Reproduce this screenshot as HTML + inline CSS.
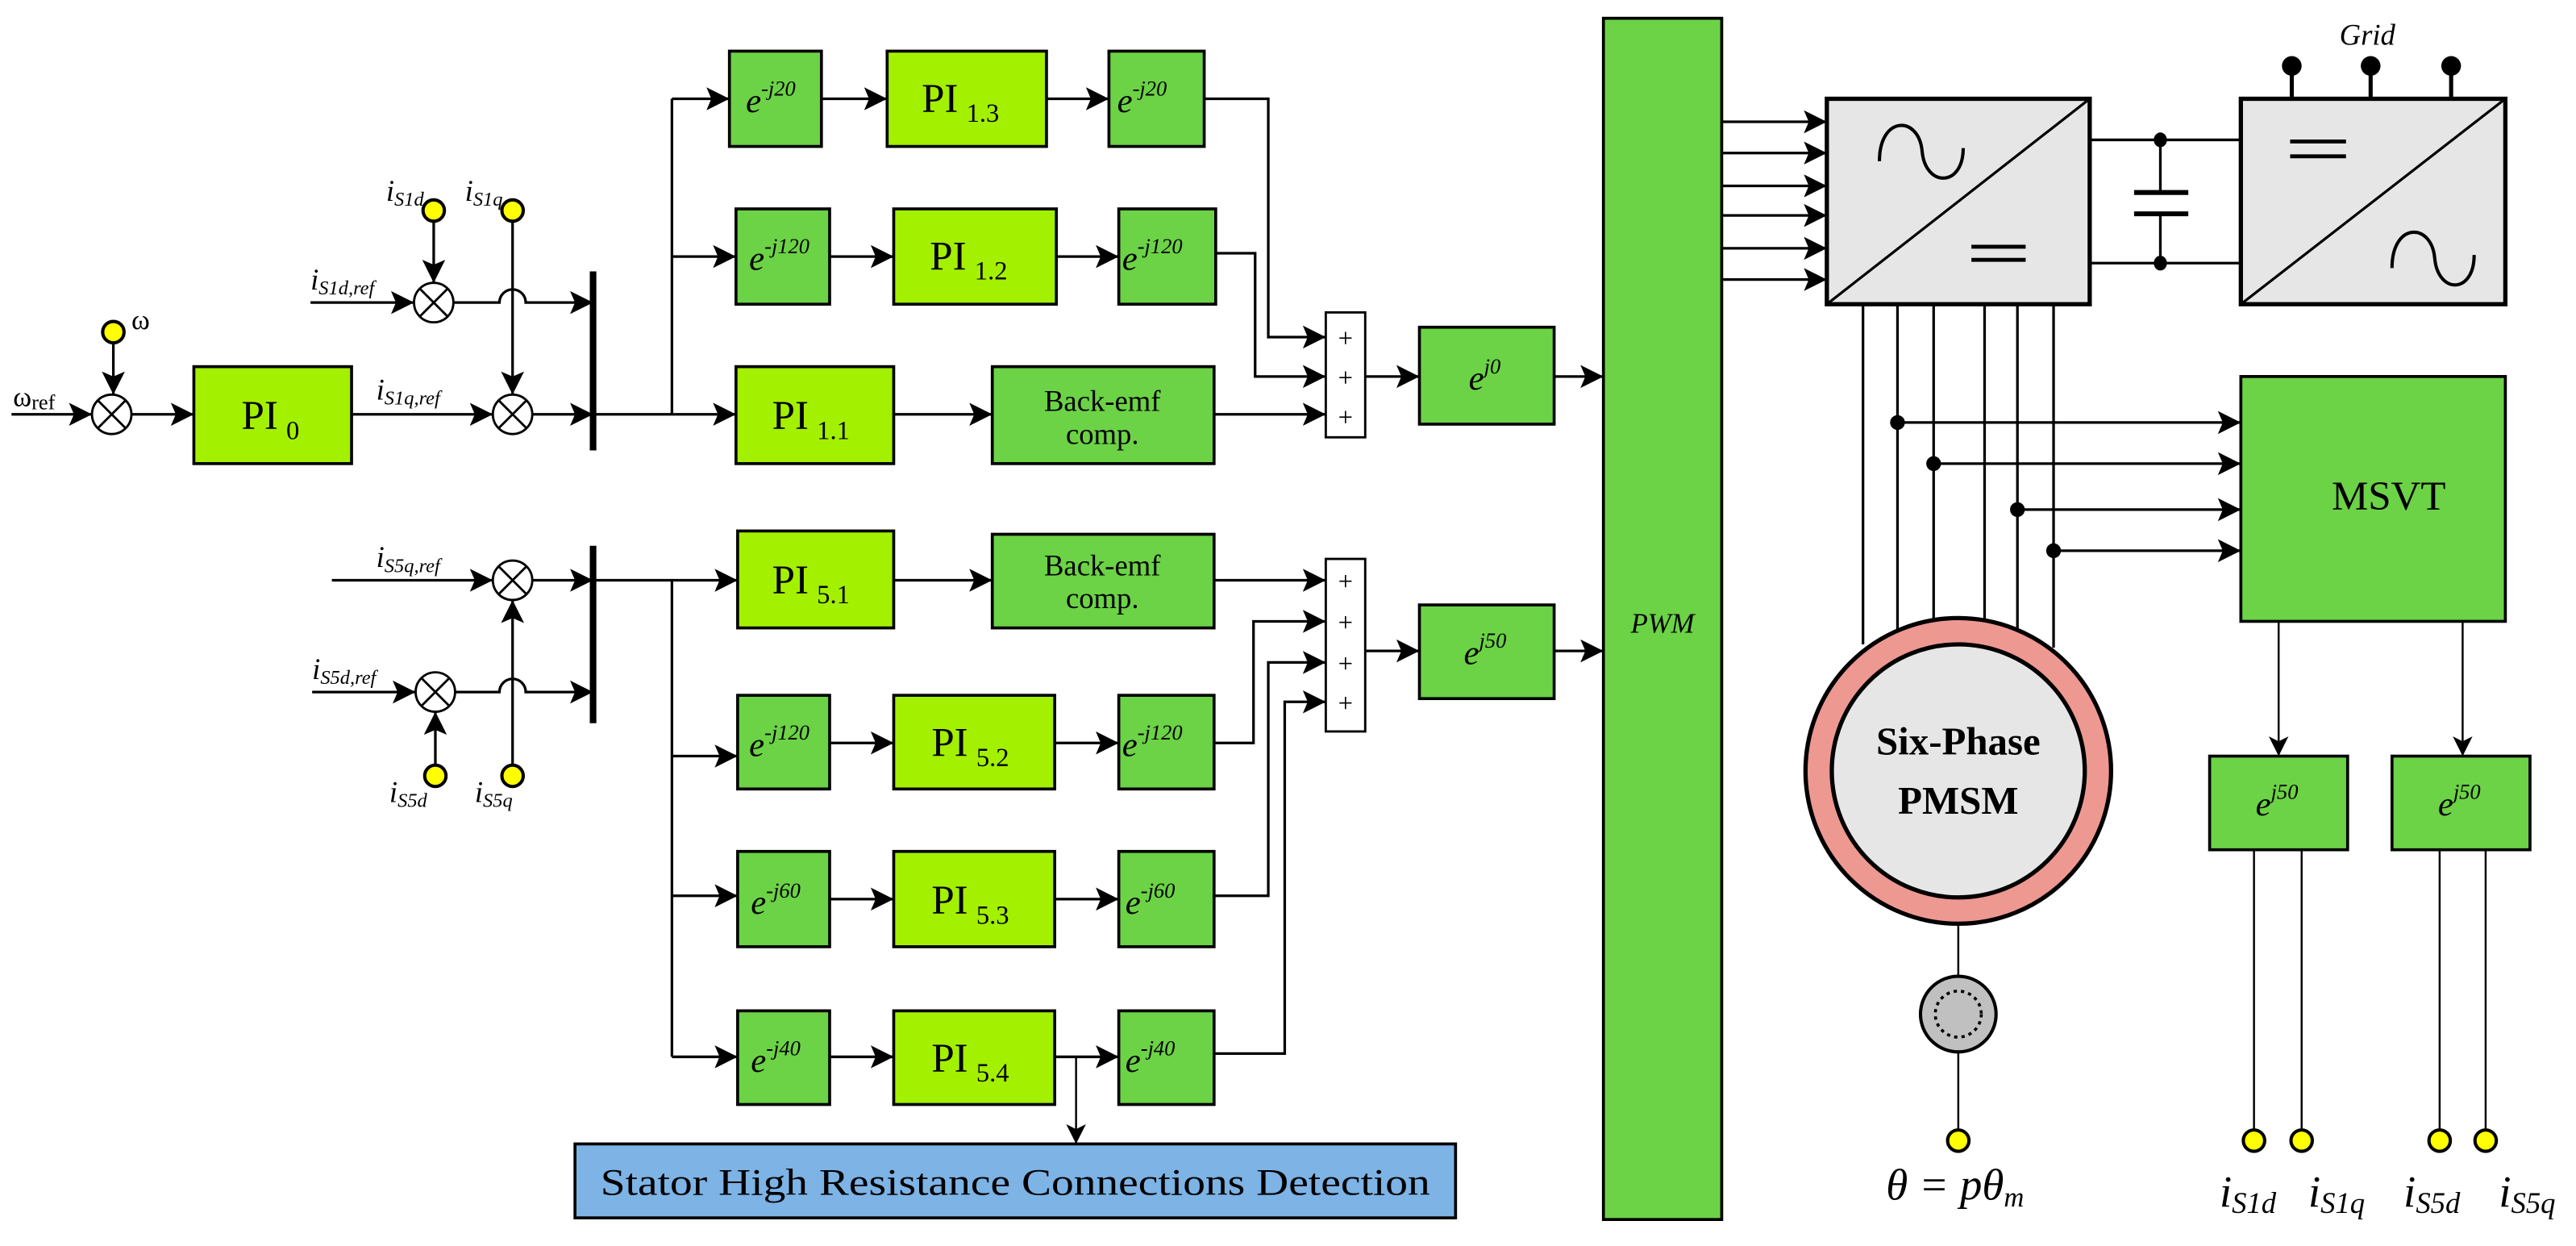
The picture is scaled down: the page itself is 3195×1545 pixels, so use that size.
<!DOCTYPE html>
<html><head><meta charset="utf-8"><style>
html,body{margin:0;padding:0;background:#fff;}
svg{display:block;font-family:"Liberation Serif",serif;}
text{font-family:"Liberation Serif",serif;}
</style></head><body>
<svg width="3195" height="1545" viewBox="0 0 1568 758" xmlns="http://www.w3.org/2000/svg" font-family="Liberation Serif, serif">
<defs>
<marker id="a" markerUnits="userSpaceOnUse" markerWidth="16" markerHeight="16" refX="14" refY="7" orient="auto">
<path d="M0,0 L14,7 L0,14 L3,7 z" fill="#000"/>
</marker>
<marker id="s" markerUnits="userSpaceOnUse" markerWidth="14" markerHeight="14" refX="12" refY="6" orient="auto">
<path d="M0,0 L12,6 L0,12 L3,6 z" fill="#000"/>
</marker>
</defs>
<g stroke="#000" stroke-width="1.6" fill="none">
<line x1="7" y1="252" x2="56" y2="252" marker-end="url(#a)"/>
<line x1="69" y1="209" x2="69" y2="240" marker-end="url(#a)"/>
<line x1="80" y1="252" x2="118" y2="252" marker-end="url(#a)"/>
<line x1="214" y1="252" x2="300" y2="252" marker-end="url(#a)"/>
<line x1="324" y1="252" x2="361" y2="252" marker-end="url(#a)"/>
<line x1="189" y1="184" x2="252" y2="184" marker-end="url(#a)"/>
<line x1="264" y1="135" x2="264" y2="172" marker-end="url(#a)"/>
<path d="M276,184 H304 A8,8 0 0 1 320,184 H361" marker-end="url(#a)"/>
<line x1="312" y1="135" x2="312" y2="240" marker-end="url(#a)"/>
<line x1="361" y1="165" x2="361" y2="274" stroke-width="4"/>
<line x1="361" y1="252" x2="448" y2="252" marker-end="url(#a)"/>
<line x1="409" y1="60" x2="409" y2="252"/>
<line x1="409" y1="60" x2="444" y2="60" marker-end="url(#a)"/>
<line x1="409" y1="156" x2="448" y2="156" marker-end="url(#a)"/>
<line x1="500" y1="60" x2="540" y2="60" marker-end="url(#a)"/>
<line x1="637" y1="60" x2="675" y2="60" marker-end="url(#a)"/>
<polyline points="733,60 772,60 772,205 807,205" marker-end="url(#a)"/>
<line x1="505" y1="156" x2="544" y2="156" marker-end="url(#a)"/>
<line x1="643" y1="156" x2="681" y2="156" marker-end="url(#a)"/>
<polyline points="740,154 764,154 764,229 807,229" marker-end="url(#a)"/>
<line x1="544" y1="252" x2="604" y2="252" marker-end="url(#a)"/>
<line x1="739" y1="252" x2="807" y2="252" marker-end="url(#a)"/>
<line x1="831" y1="229" x2="864" y2="229" marker-end="url(#a)"/>
<line x1="946" y1="229" x2="976" y2="229" marker-end="url(#a)"/>
<line x1="202" y1="353" x2="300" y2="353" marker-end="url(#a)"/>
<line x1="324" y1="353" x2="361" y2="353" marker-end="url(#a)"/>
<line x1="190" y1="421" x2="253" y2="421" marker-end="url(#a)"/>
<path d="M277,421 H304 A8,8 0 0 1 320,421 H361" marker-end="url(#a)"/>
<line x1="265" y1="465" x2="265" y2="433" marker-end="url(#a)"/>
<line x1="312" y1="465" x2="312" y2="365" marker-end="url(#a)"/>
<line x1="361" y1="332" x2="361" y2="440" stroke-width="4"/>
<line x1="361" y1="353" x2="449" y2="353" marker-end="url(#a)"/>
<line x1="409" y1="353" x2="409" y2="643"/>
<line x1="409" y1="460" x2="449" y2="460" marker-end="url(#a)"/>
<line x1="409" y1="545" x2="449" y2="545" marker-end="url(#a)"/>
<line x1="409" y1="643" x2="449" y2="643" marker-end="url(#a)"/>
<line x1="544" y1="353" x2="604" y2="353" marker-end="url(#a)"/>
<line x1="739" y1="353" x2="807" y2="353" marker-end="url(#a)"/>
<line x1="505" y1="452" x2="544" y2="452" marker-end="url(#a)"/>
<line x1="642" y1="452" x2="681" y2="452" marker-end="url(#a)"/>
<polyline points="739,452 763,452 763,378 807,378" marker-end="url(#a)"/>
<line x1="505" y1="547" x2="544" y2="547" marker-end="url(#a)"/>
<line x1="642" y1="547" x2="681" y2="547" marker-end="url(#a)"/>
<polyline points="739,545 772,545 772,403 807,403" marker-end="url(#a)"/>
<line x1="505" y1="643" x2="544" y2="643" marker-end="url(#a)"/>
<line x1="642" y1="643" x2="681" y2="643" marker-end="url(#a)"/>
<polyline points="739,641 782,641 782,427 807,427" marker-end="url(#a)"/>
<line x1="655" y1="643" x2="655" y2="696" stroke-width="1.2" marker-end="url(#s)"/>
<line x1="831" y1="396" x2="864" y2="396" marker-end="url(#a)"/>
<line x1="946" y1="396" x2="976" y2="396" marker-end="url(#a)"/>
<line x1="1048" y1="74" x2="1112" y2="74" marker-end="url(#a)"/>
<line x1="1048" y1="93" x2="1112" y2="93" marker-end="url(#a)"/>
<line x1="1048" y1="113" x2="1112" y2="113" marker-end="url(#a)"/>
<line x1="1048" y1="131" x2="1112" y2="131" marker-end="url(#a)"/>
<line x1="1048" y1="151" x2="1112" y2="151" marker-end="url(#a)"/>
<line x1="1048" y1="170" x2="1112" y2="170" marker-end="url(#a)"/>
<line x1="1272" y1="85" x2="1364" y2="85"/>
<line x1="1272" y1="160" x2="1364" y2="160"/>
<line x1="1315" y1="85" x2="1315" y2="117"/>
<line x1="1315" y1="130" x2="1315" y2="160"/>
<line x1="1299" y1="117" x2="1332" y2="117" stroke-width="3"/>
<line x1="1299" y1="130" x2="1332" y2="130" stroke-width="3"/>
<line x1="1395" y1="40" x2="1395" y2="60" stroke-width="2.5"/>
<line x1="1443" y1="40" x2="1443" y2="60" stroke-width="2.5"/>
<line x1="1492" y1="40" x2="1492" y2="60" stroke-width="2.5"/>
<line x1="1134" y1="185" x2="1134" y2="392"/>
<line x1="1155" y1="185" x2="1155" y2="384"/>
<line x1="1177" y1="185" x2="1177" y2="378"/>
<line x1="1208" y1="185" x2="1208" y2="378"/>
<line x1="1228" y1="185" x2="1228" y2="384"/>
<line x1="1250" y1="185" x2="1250" y2="394"/>
<line x1="1155" y1="257" x2="1364" y2="257" marker-end="url(#a)"/>
<line x1="1177" y1="282" x2="1364" y2="282" marker-end="url(#a)"/>
<line x1="1228" y1="310" x2="1364" y2="310" marker-end="url(#a)"/>
<line x1="1250" y1="335" x2="1364" y2="335" marker-end="url(#a)"/>
<line x1="1387" y1="378" x2="1387" y2="460" stroke-width="1.2" marker-end="url(#s)"/>
<line x1="1499" y1="378" x2="1499" y2="460" stroke-width="1.2" marker-end="url(#s)"/>
<line x1="1372" y1="517" x2="1372" y2="690" stroke-width="1.2"/>
<line x1="1401" y1="517" x2="1401" y2="690" stroke-width="1.2"/>
<line x1="1485" y1="517" x2="1485" y2="690" stroke-width="1.2"/>
<line x1="1513" y1="517" x2="1513" y2="690" stroke-width="1.2"/>
<line x1="1192" y1="563" x2="1192" y2="690" stroke-width="1.2"/>
</g>
<g stroke="#000" stroke-width="1.8">
<rect x="118" y="223" width="96" height="59" fill="#a3f000"/>
<rect x="444" y="31" width="56" height="58" fill="#6cd246"/>
<rect x="540" y="31" width="97" height="58" fill="#a3f000"/>
<rect x="675" y="31" width="58" height="58" fill="#6cd246"/>
<rect x="448" y="127" width="57" height="58" fill="#6cd246"/>
<rect x="544" y="127" width="99" height="58" fill="#a3f000"/>
<rect x="681" y="127" width="59" height="58" fill="#6cd246"/>
<rect x="448" y="223" width="96" height="59" fill="#a3f000"/>
<rect x="604" y="223" width="135" height="59" fill="#6cd246"/>
<rect x="807" y="190" width="24" height="76" fill="#fff" stroke-width="1.4"/>
<rect x="864" y="199" width="82" height="59" fill="#6cd246"/>
<rect x="449" y="323" width="95" height="59" fill="#a3f000"/>
<rect x="604" y="325" width="135" height="57" fill="#6cd246"/>
<rect x="807" y="340" width="24" height="105" fill="#fff" stroke-width="1.4"/>
<rect x="864" y="368" width="82" height="57" fill="#6cd246"/>
<rect x="449" y="423" width="56" height="57" fill="#6cd246"/>
<rect x="544" y="423" width="98" height="57" fill="#a3f000"/>
<rect x="681" y="423" width="58" height="57" fill="#6cd246"/>
<rect x="449" y="518" width="56" height="58" fill="#6cd246"/>
<rect x="544" y="518" width="98" height="58" fill="#a3f000"/>
<rect x="681" y="518" width="58" height="58" fill="#6cd246"/>
<rect x="449" y="615" width="56" height="57" fill="#6cd246"/>
<rect x="544" y="615" width="98" height="57" fill="#a3f000"/>
<rect x="681" y="615" width="58" height="57" fill="#6cd246"/>
<rect x="350" y="696" width="536" height="45" fill="#7db3e5"/>
<rect x="976" y="11" width="72" height="731" fill="#6cd246"/>
<rect x="1112" y="60" width="160" height="125" fill="#e6e6e6" stroke-width="2.6"/>
<rect x="1364" y="60" width="161" height="125" fill="#e6e6e6" stroke-width="2.6"/>
<rect x="1364" y="229" width="161" height="149" fill="#6cd246"/>
<rect x="1345" y="460" width="84" height="57" fill="#6cd246"/>
<rect x="1456" y="460" width="84" height="57" fill="#6cd246"/>
</g>
<g stroke="#000" fill="none" stroke-width="1.6">
<line x1="1112" y1="185" x2="1272" y2="60"/>
<line x1="1364" y1="185" x2="1525" y2="60"/>
<path d="M1144,98 C1144,70 1168,70 1170,92 C1172,114 1195,114 1195,90" stroke-width="2"/>
<line x1="1200" y1="150" x2="1233" y2="150" stroke-width="2.4"/>
<line x1="1200" y1="158" x2="1233" y2="158" stroke-width="2.4"/>
<line x1="1394" y1="86" x2="1428" y2="86" stroke-width="2.4"/>
<line x1="1394" y1="95" x2="1428" y2="95" stroke-width="2.4"/>
<path d="M1456,163 C1456,135 1480,135 1482,157 C1484,179 1506,179 1506,155" stroke-width="2"/>
</g>
<g fill="#000">
<ellipse cx="1315" cy="85" rx="4" ry="4.5"/>
<ellipse cx="1315" cy="160" rx="4" ry="4.5"/>
<circle cx="1395" cy="40" r="6"/>
<circle cx="1443" cy="40" r="6"/>
<circle cx="1492" cy="40" r="6"/>
<circle cx="1155" cy="257" r="4.5"/>
<circle cx="1177" cy="282" r="4.5"/>
<circle cx="1228" cy="310" r="4.5"/>
<circle cx="1250" cy="335" r="4.5"/>
</g>
<circle cx="1192" cy="469" r="93" fill="#ee9892" stroke="#000" stroke-width="2.6"/>
<circle cx="1192" cy="469" r="77" fill="#e6e6e6" stroke="#000" stroke-width="2.6"/>
<ellipse cx="1192" cy="617" rx="23" ry="23" fill="#c0c0c0" stroke="#000" stroke-width="2"/>
<circle cx="1192" cy="617" r="14" fill="none" stroke="#000" stroke-width="1.8" stroke-dasharray="2,2.5"/>
<text x="1192" y="459" font-size="24" font-weight="bold" text-anchor="middle">Six-Phase</text>
<text x="1192" y="495" font-size="24" font-weight="bold" text-anchor="middle">PMSM</text>
<g stroke="#000" stroke-width="1.4" fill="#fff">
<circle cx="68" cy="252" r="12"/>
<circle cx="312" cy="252" r="12"/>
<circle cx="264" cy="184" r="12"/>
<circle cx="312" cy="353" r="12"/>
<circle cx="265" cy="421" r="12"/>
</g>
<g stroke="#000" stroke-width="1.4">
<path d="M59.5,243.5 L76.5,260.5 M76.5,243.5 L59.5,260.5"/>
<path d="M303.5,243.5 L320.5,260.5 M320.5,243.5 L303.5,260.5"/>
<path d="M255.5,175.5 L272.5,192.5 M272.5,175.5 L255.5,192.5"/>
<path d="M303.5,344.5 L320.5,361.5 M320.5,344.5 L303.5,361.5"/>
<path d="M256.5,412.5 L273.5,429.5 M273.5,412.5 L256.5,429.5"/>
</g>
<g fill="#ffff00" stroke="#000" stroke-width="2">
<circle cx="69" cy="202" r="6.5"/>
<circle cx="264" cy="128" r="6.5"/>
<circle cx="312" cy="128" r="6.5"/>
<circle cx="265" cy="472" r="6.5"/>
<circle cx="312" cy="472" r="6.5"/>
<circle cx="1192" cy="694" r="6.5"/>
<circle cx="1372" cy="694" r="6.5"/>
<circle cx="1401" cy="694" r="6.5"/>
<circle cx="1485" cy="694" r="6.5"/>
<circle cx="1513" cy="694" r="6.5"/>
</g>
<g font-size="16" text-anchor="middle">
<text x="819" y="211">+</text><text x="819" y="235">+</text><text x="819" y="259">+</text>
<text x="819" y="359">+</text><text x="819" y="384">+</text><text x="819" y="409">+</text><text x="819" y="433">+</text>
</g>
<g font-size="25">
<text x="147" y="261">PI<tspan font-size="16" dx="5" dy="6">0</tspan></text>
<text x="561" y="68">PI<tspan font-size="16" dx="5" dy="6">1.3</tspan></text>
<text x="566" y="164">PI<tspan font-size="16" dx="5" dy="6">1.2</tspan></text>
<text x="470" y="261">PI<tspan font-size="16" dx="5" dy="6">1.1</tspan></text>
<text x="470" y="361">PI<tspan font-size="16" dx="5" dy="6">5.1</tspan></text>
<text x="567" y="460">PI<tspan font-size="16" dx="5" dy="6">5.2</tspan></text>
<text x="567" y="556">PI<tspan font-size="16" dx="5" dy="6">5.3</tspan></text>
<text x="567" y="652">PI<tspan font-size="16" dx="5" dy="6">5.4</tspan></text>
</g>
<g font-size="18" text-anchor="middle">
<text x="671" y="250">Back-emf</text><text x="671" y="270">comp.</text>
<text x="671" y="350">Back-emf</text><text x="671" y="370">comp.</text>
</g>
<text x="1454" y="310" font-size="25" text-anchor="middle">MSVT</text>
<text x="1012" y="385" font-size="17" font-style="italic" text-anchor="middle">PWM</text>
<text x="618" y="727" font-size="23" text-anchor="middle" textLength="505" lengthAdjust="spacingAndGlyphs">Stator High Resistance Connections Detection</text>
<text x="1441" y="27" font-size="18" font-style="italic" text-anchor="middle">Grid</text>
<g font-size="21" font-style="italic">
<text x="454" y="68">e<tspan font-size="13" dy="-10">-j20</tspan></text>
<text x="680" y="68">e<tspan font-size="13" dy="-10">-j20</tspan></text>
<text x="456" y="164">e<tspan font-size="13" dy="-10">-j120</tspan></text>
<text x="683" y="164">e<tspan font-size="13" dy="-10">-j120</tspan></text>
<text x="894" y="237">e<tspan font-size="13" dy="-10">j0</tspan></text>
<text x="891" y="404">e<tspan font-size="13" dy="-10">j50</tspan></text>
<text x="456" y="460">e<tspan font-size="13" dy="-10">-j120</tspan></text>
<text x="683" y="460">e<tspan font-size="13" dy="-10">-j120</tspan></text>
<text x="457" y="556">e<tspan font-size="13" dy="-10">-j60</tspan></text>
<text x="685" y="556">e<tspan font-size="13" dy="-10">-j60</tspan></text>
<text x="457" y="652">e<tspan font-size="13" dy="-10">-j40</tspan></text>
<text x="685" y="652">e<tspan font-size="13" dy="-10">-j40</tspan></text>
<text x="1373" y="496">e<tspan font-size="13" dy="-10">j50</tspan></text>
<text x="1484" y="496">e<tspan font-size="13" dy="-10">j50</tspan></text>
</g>
<g font-style="italic" font-size="18">
<text x="235" y="122">i<tspan font-size="12" dy="3">S1d</tspan></text>
<text x="283" y="122">i<tspan font-size="12" dy="3">S1q</tspan></text>
<text x="189" y="176">i<tspan font-size="12" dy="3">S1d,ref</tspan></text>
<text x="229" y="243">i<tspan font-size="12" dy="3">S1q,ref</tspan></text>
<text x="229" y="345">i<tspan font-size="12" dy="3">S5q,ref</tspan></text>
<text x="190" y="413">i<tspan font-size="12" dy="3">S5d,ref</tspan></text>
<text x="237" y="488">i<tspan font-size="12" dy="3">S5d</tspan></text>
<text x="289" y="488">i<tspan font-size="12" dy="3">S5q</tspan></text>
</g>
<text x="80" y="200" font-size="17">ω</text>
<text x="8" y="247" font-size="17">ω<tspan font-size="13" dy="2">ref</tspan></text>
<g font-style="italic" font-size="27">
<text x="1148" y="730">θ = pθ<tspan font-size="17" dy="4">m</tspan></text>
<text x="1351" y="734">i<tspan font-size="18" dy="4">S1d</tspan></text>
<text x="1405" y="734">i<tspan font-size="18" dy="4">S1q</tspan></text>
<text x="1463" y="734">i<tspan font-size="18" dy="4">S5d</tspan></text>
<text x="1521" y="734">i<tspan font-size="18" dy="4">S5q</tspan></text>
</g>
</svg>
</body></html>
